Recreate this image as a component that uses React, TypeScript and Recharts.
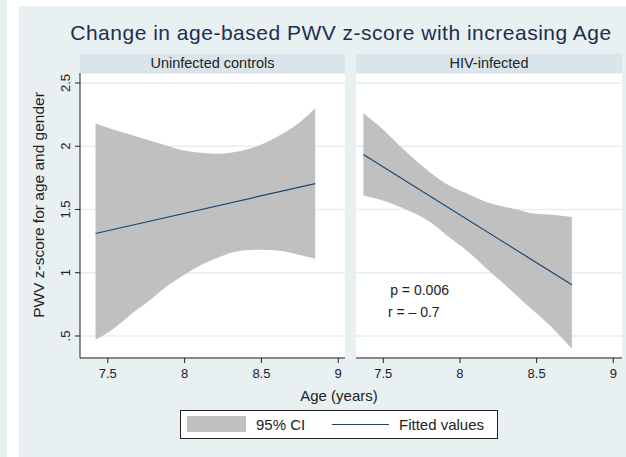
import React from "react";
import {
  ComposedChart, Area, Line, XAxis, YAxis, CartesianGrid, ReferenceDot,
} from "recharts";

// Uninfected controls: age grid with 95% CI bounds, plus the fitted line ends
const ctrlAge = [7.42, 7.54, 7.65, 7.76, 7.87, 7.98, 8.09, 8.2, 8.31, 8.42, 8.53, 8.64, 8.75, 8.85];
const ctrlLow = [0.47, 0.56, 0.67, 0.77, 0.88, 0.97, 1.05, 1.11, 1.16, 1.18, 1.18, 1.17, 1.14, 1.11];
const ctrlHigh = [2.18, 2.13, 2.09, 2.05, 2.01, 1.97, 1.95, 1.94, 1.95, 1.98, 2.03, 2.10, 2.19, 2.30];
const ctrlFitAge = [7.42, 8.85];
const ctrlFit = [1.31, 1.705];

// HIV-infected
const hivAge = [7.37, 7.5, 7.61, 7.72, 7.83, 7.93, 8.04, 8.15, 8.26, 8.37, 8.47, 8.58, 8.73];
const hivLow = [1.61, 1.57, 1.52, 1.46, 1.38, 1.28, 1.18, 1.06, 0.94, 0.82, 0.71, 0.59, 0.40];
const hivHigh = [2.26, 2.13, 2.00, 1.88, 1.77, 1.69, 1.63, 1.57, 1.53, 1.50, 1.47, 1.46, 1.44];
const hivFitAge = [7.37, 8.73];
const hivFit = [1.935, 0.905];

const yTicks = [0.5, 1, 1.5, 2, 2.5];
const yTickLabels = [".5", "1", "1.5", "2", "2.5"];
const xTicks = [7.5, 8, 8.5, 9];

const FONT = "'Liberation Sans', Arial, sans-serif";
const BG = "#e8f0f2";
const STRIP = "#d9e5ea";
const GRID = "#e6eef1";
const BAND = "#c0c0c0";
const FIT = "#1a476f";
const INK = "#222";

const bandRows = (age: number[], low: number[], high: number[]) =>
  age.map((a, i) => ({ age: a, ci: [low[i], high[i]] }));
const fitRows = (age: number[], fit: number[]) =>
  age.map((a, i) => ({ age: a, fit: fit[i] }));

const YTick = (props: any) => {
  const { x, y, payload } = props;
  const label = yTickLabels[yTicks.indexOf(payload.value)] ?? String(payload.value);
  return (
    <g transform={`translate(${x},${y}) rotate(-90)`}>
      <text x={0} y={0} textAnchor="middle" fontSize={13} fill={INK} fontFamily={FONT}>
        {label}
      </text>
    </g>
  );
};

function Panel({ band, fit, domain, showY, note }: {
  band: any[]; fit: any[]; domain: [number, number]; showY: boolean; note?: boolean;
}) {
  return (
    <ComposedChart
      width={showY ? 325 : 266}
      height={325}
      data={band}
      margin={{ top: 0, right: 0, bottom: 0, left: 0 }}
    >
      <CartesianGrid vertical={false} stroke={GRID} strokeWidth={1.5} />
      <XAxis
        dataKey="age"
        type="number"
        domain={domain}
        ticks={xTicks}
        allowDataOverflow
        height={40}
        tickSize={5}
        tickMargin={6}
        stroke={INK}
        tick={{ fontSize: 13, fill: INK, fontFamily: FONT }}
      />
      <YAxis
        type="number"
        domain={[0.326, 2.579]}
        ticks={yTicks}
        allowDataOverflow
        hide={!showY}
        width={60}
        tickSize={5}
        tickMargin={5}
        stroke={INK}
        tick={<YTick />}
      />
      <Area
        dataKey="ci"
        type="natural"
        stroke="none"
        fill={BAND}
        fillOpacity={1}
        isAnimationActive={false}
      />
      <Line
        data={fit}
        dataKey="fit"
        type="linear"
        stroke={FIT}
        strokeWidth={1.2}
        dot={false}
        isAnimationActive={false}
      />
      {note && (
        <ReferenceDot
          x={7.545}
          y={0.825}
          ifOverflow="visible"
          shape={(p: any) => (
            <text x={p.cx} y={p.cy} fontSize={14} fill={INK} fontFamily={FONT}>p = 0.006</text>
          )}
        />
      )}
      {note && (
        <ReferenceDot
          x={7.53}
          y={0.652}
          ifOverflow="visible"
          shape={(p: any) => (
            <text x={p.cx} y={p.cy} fontSize={14} fill={INK} fontFamily={FONT}>r = – 0.7</text>
          )}
        />
      )}
    </ComposedChart>
  );
}

export default function App() {
  const abs = (s: React.CSSProperties): React.CSSProperties => ({ position: "absolute", ...s });
  return (
    <div style={abs({ left: 0, top: 0, width: 626, height: 457, background: "#fff", overflow: "hidden", fontFamily: FONT })}>
      <div style={abs({ left: 0, top: 0, width: 7, height: 457, background: "#e6eef0" })} />
      <div style={abs({ left: 19, top: 6, width: 607, height: 451, background: BG })} />

      <div style={abs({ left: 341, top: 22, transform: "translateX(-50%)", whiteSpace: "nowrap", fontSize: 21, lineHeight: "21px", letterSpacing: 0.5, color: "#1c2e4e" })}>
        Change in age-based PWV z-score with increasing Age
      </div>

      <div style={abs({ left: 80, top: 54, width: 265, height: 19, background: STRIP, fontSize: 14.5, lineHeight: "19px", textAlign: "center", color: INK })}>
        Uninfected controls
      </div>
      <div style={abs({ left: 356, top: 54, width: 266, height: 19, background: STRIP, fontSize: 14.5, lineHeight: "19px", textAlign: "center", color: INK })}>
        HIV-infected
      </div>

      <div style={abs({ left: 80, top: 73, width: 265, height: 285, background: "#fff" })} />
      <div style={abs({ left: 356, top: 73, width: 266, height: 285, background: "#fff" })} />

      <div style={abs({ left: 20, top: 73 })}>
        <Panel band={bandRows(ctrlAge, ctrlLow, ctrlHigh)} fit={fitRows(ctrlFitAge, ctrlFit)} domain={[7.319, 9.044]} showY />
      </div>
      <div style={abs({ left: 356, top: 73 })}>
        <Panel band={bandRows(hivAge, hivLow, hivHigh)} fit={fitRows(hivFitAge, hivFit)} domain={[7.322, 9.057]} showY={false} note />
      </div>

      <div style={abs({ left: 38, top: 205, transform: "translate(-50%, -50%) rotate(-90deg)", whiteSpace: "nowrap", fontSize: 15.5, lineHeight: "15px", color: INK })}>
        PWV z-score for age and gender
      </div>
      <div style={abs({ left: 339, top: 388, transform: "translateX(-50%)", whiteSpace: "nowrap", fontSize: 15, lineHeight: "15px", color: INK })}>
        Age (years)
      </div>

      <div style={abs({ left: 180, top: 410, width: 316, height: 27, border: `1px solid ${INK}`, background: "#fff" })}>
        <div style={abs({ left: 6, top: 5, width: 59, height: 16, background: BAND })} />
        <div style={abs({ left: 75, top: 6, fontSize: 15, lineHeight: "15px", color: INK, whiteSpace: "nowrap" })}>95% CI</div>
        <div style={abs({ left: 151, top: 13, width: 57, height: 1, background: FIT })} />
        <div style={abs({ left: 218, top: 6, fontSize: 15, lineHeight: "15px", color: INK, whiteSpace: "nowrap" })}>Fitted values</div>
      </div>
    </div>
  );
}
